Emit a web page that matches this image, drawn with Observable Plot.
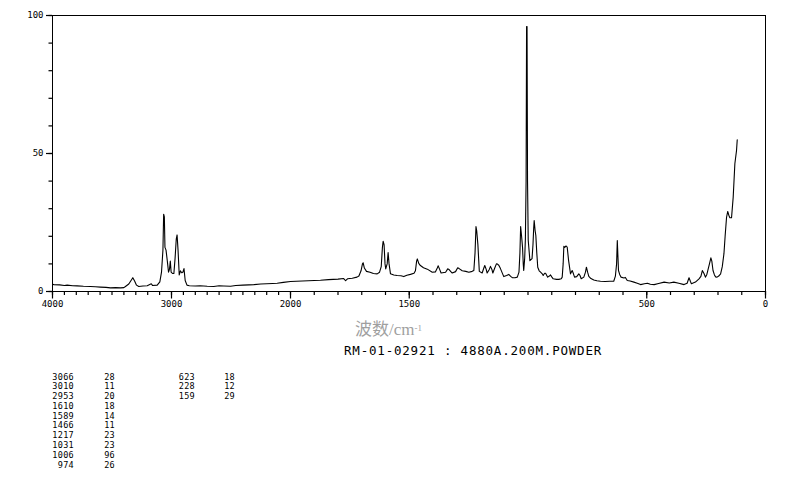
<!DOCTYPE html>
<html><head><meta charset="utf-8">
<script src="https://cdn.jsdelivr.net/npm/d3@7"></script>
<script src="https://cdn.jsdelivr.net/npm/@observablehq/plot@0.6"></script>
<style>
body{margin:0;background:#fff;}
#wrap{position:relative;width:794px;height:482px;overflow:hidden;background:#fff;}
#wrap svg{position:absolute;left:0;top:0;}
.t{position:absolute;white-space:pre;}
.num{position:absolute;white-space:pre;font-family:"DejaVu Sans Mono",monospace;font-size:8.5px;line-height:9.8px;text-align:right;color:#000;letter-spacing:0.3px;}
</style></head><body><div id="wrap"></div>
<script>
// Raman spectrum, wavenumber (cm-1) and intensity
const wavenumber = [4000,3989,3940,3900,3877,3830,3793,3740,3681,3640,3597,3550,3513,3470,3429,3400,3387,3359,3340,3325,3310,3294,3275,3240,3204,3170,3160,3120,3098,3084,3072,3066,3060,3055,3046,3035,3025,3017,3010,3003,2990,2980,2970,2960,2953,2945,2935,2925,2915,2905,2895,2885,2870,2850,2800,2760,2700,2645,2600,2560,2504,2460,2400,2350,2308,2250,2200,2150,2112,2060,2000,1950,1900,1874,1840,1800,1776,1768,1760,1740,1720,1712,1703,1697,1694,1689,1680,1665,1651,1635,1625,1618,1613,1610,1606,1602,1599,1593,1589,1585,1579,1565,1551,1535,1523,1510,1495,1480,1474,1469,1466,1460,1453,1440,1424,1403,1390,1382,1378,1372,1366,1347,1338,1333,1325,1319,1305,1296,1290,1277,1262,1249,1235,1228,1223,1219,1216,1211,1205,1193,1186,1182,1176,1172,1163,1158,1152,1148,1140,1133,1130,1123,1116,1102,1090,1081,1073,1066,1055,1045,1038,1034,1031,1027,1023,1020,1018,1014,1011,1008,1006,1004,1002,999,992,983,979,976,974,970,967,963,959,953,947,940,936,930,926,917,910,905,900,894,880,870,860,856,852,849,845,840,835,829,821,814,809,804,795,786,781,776,765,758,754,749,744,735,723,710,695,675,655,639,632,627,624,621,619,614,608,596,590,582,570,554,540,526,510,497,485,469,450,427,405,386,365,343,330,322,316,312,295,280,272,266,259,253,247,243,236,230,226,221,215,210,204,197,189,182,175,170,164,159,154,150,143,136,129,122,119];
const intensity = [2.6,2.5,2.4,2.2,2.3,2.1,2.05,1.9,1.8,1.7,1.6,1.5,1.3,1.4,1.3,1.4,1.8,2.7,4.0,5.0,3.8,2.3,1.8,2.0,2.1,2.8,2.2,2.3,3.5,7,15,28,27,16,15,11,7,8,11,7,6.5,6.5,12,19,20.5,15,6,7.5,6.8,6.9,8.3,4,2.3,2.1,2.0,2.1,1.9,1.8,2.1,2.0,1.9,2.2,2.3,2.4,2.5,2.7,2.8,2.9,3.0,3.3,3.6,3.8,4.0,4.1,4.3,4.5,4.7,3.9,4.6,4.8,5.2,5.6,7.5,10,10.4,8.5,7.3,7.0,6.5,6.4,7.0,9,16,18.2,17,10,8.2,10,14.1,10,6.4,6.0,5.8,5.7,5.4,5.9,6.2,6.6,7.5,11,11.8,10.2,9.4,8.6,8.1,7.0,7.1,8.5,9.3,8,6.7,7.0,8.2,8.0,7.2,6.7,7.2,8.6,8.3,7.5,7.3,7.0,7.3,7.6,14,23.5,22,17,7.3,6.7,8.5,9.4,8,6.7,8,9.1,8,6.7,8.5,10,10.0,9.5,8.3,5.4,5.8,6.2,5.5,5.0,5.0,5.2,7,14,23.5,20,16,10,7.6,12,19,40,96,96,40,18.5,11.2,11.9,17,23,25.7,22,20.3,14,8.8,7.5,7,6.4,5.8,6.6,6.6,5.2,5.6,6.0,5.3,4.6,4.4,4.4,4.6,5.2,10,16.4,16.0,16.5,16.1,11.2,6.4,7.6,6.5,5.2,5.4,6.4,5.8,4.6,5.2,7,8.8,7,5.5,4.7,4.2,3.9,3.7,3.6,3.7,3.7,5.6,10,18.5,12,7.6,6.2,5.2,4.9,5.1,4.0,3.8,3.4,3.0,2.5,2.8,3.0,2.6,2.5,2.9,3.4,3.1,3.4,3.0,2.5,3.0,5.0,3.6,2.8,3.4,4.6,5.5,7.6,6.5,5.2,6.2,7.6,10,12.2,11,7.6,6,5.3,5.2,5.6,6.4,9,13.7,20,26.9,29,27.5,26.7,26.7,34.2,46.3,51.1,55];

// peak list printed below the chart
const peakWn  = [3066,3010,2953,1610,1589,1466,1217,1031,1006,974,623,228,159];
const peakInt = [28,11,20,18,14,11,23,23,96,26,18,12,29];

// axis ticks
const xTickLabels = [4000,3000,2000,1500,500,0];
const xMinorTicks = d3.range(0, 4001, 100);
const yTickLabels = [0,50,100];
const yMinorTicks = d3.range(0, 101, 10);

const axisLabel = "波数/cm";
const axisLabelSup = "-1";
const caption = "RM-01-02921 : 4880A.200M.POWDER";

const spectrum = wavenumber.map((w, i) => ({w, v: intensity[i]}));

const chart = Plot.plot({
  width: 794,
  height: 320,
  marginLeft: 52,
  marginRight: 29,
  marginTop: 15,
  marginBottom: 29,
  style: {fontFamily: "DejaVu Sans Mono, monospace", fontSize: "9px", color: "#000", background: "#fff"},
  x: {type: "linear", domain: [4000, 2000, 0], range: [52, 290, 765], label: null},
  y: {domain: [0, 100], range: [291, 15], label: null},
  marks: [
    Plot.frame({stroke: "#000", strokeWidth: 1}),
    Plot.axisX(xMinorTicks, {tickSize: 4, tickFormat: () => "", label: null, stroke: "#000", strokeWidth: 1.2}),
    Plot.axisX(xTickLabels, {tickSize: 7.5, tickPadding: 1.5, tickFormat: d => String(d), label: null, stroke: "#000", fill: "#000", strokeWidth: 1.2}),
    Plot.axisY(yMinorTicks, {tickSize: 3.5, tickFormat: () => "", label: null, stroke: "#000", strokeWidth: 1.2}),
    Plot.axisY(yTickLabels, {tickSize: 6, tickPadding: 3, tickFormat: d => String(d), label: null, stroke: "#000", fill: "#000", strokeWidth: 1.2}),
    Plot.line(spectrum, {x: "w", y: "v", stroke: "#000", strokeWidth: 1.1})
  ]
});

const wrap = document.getElementById("wrap");
wrap.appendChild(chart);

const lab = document.createElement("div");
lab.className = "t";
lab.style.cssText = "left:355px;top:321px;font-family:'Liberation Serif','Noto Sans CJK SC',serif;font-size:17px;line-height:18px;color:#9f9f9f;";
lab.innerHTML = axisLabel + "<sup style='font-size:9px;position:relative;top:-2px;vertical-align:top'>" + axisLabelSup + "</sup>";
wrap.appendChild(lab);

const cap = document.createElement("div");
cap.className = "t";
cap.style.cssText = "left:344px;top:344px;font-family:'DejaVu Sans Mono',monospace;font-size:12.5px;line-height:14px;letter-spacing:0.8px;color:#000;";
cap.textContent = caption;
wrap.appendChild(cap);

// table: 10 rows per column block
const rowsPerBlock = 10;
const blocks = [];
for (let i = 0; i < peakWn.length; i += rowsPerBlock) blocks.push([peakWn.slice(i, i + rowsPerBlock), peakInt.slice(i, i + rowsPerBlock)]);
const colRights = [[74, 115], [195, 235]];
blocks.forEach((b, bi) => {
  [0, 1].forEach(c => {
    const d = document.createElement("div");
    d.className = "num";
    d.style.top = "372.5px";
    d.style.left = (colRights[bi][c] - 40) + "px";
    d.style.width = "40px";
    d.textContent = b[c].map(String).join("\n");
    wrap.appendChild(d);
  });
});
</script></body></html>
